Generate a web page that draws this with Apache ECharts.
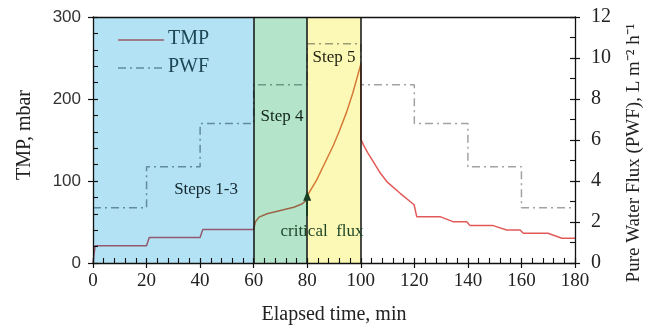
<!DOCTYPE html>
<html>
<head>
<meta charset="utf-8">
<script src="https://cdn.jsdelivr.net/npm/echarts@6/dist/echarts.min.js"></script>
<style>
  html, body { margin: 0; padding: 0; background: #ffffff; }
  #chart { width: 651px; height: 330px; }
</style>
</head>
<body>
<div id="chart"></div>
<script>
// Transmembrane pressure (mbar) against elapsed time (min)
const tmpTime = [0, 0.8, 20, 21, 40, 41, 60, 60.6, 62, 65, 70, 75, 78, 79.5, 80,
  83.5, 86, 89.7, 92, 94.7, 97, 100, 100, 101, 102.5, 104.6, 107, 109.8, 114.7,
  119.9, 120.9, 129.6, 134.4, 139.6, 140.8, 149.4, 154.5, 159.5, 160.7, 169.9,
  175.1, 180];
const tmpValues = [0, 21, 21, 31, 31, 41, 41, 50, 56, 60, 64, 68, 72, 76, 82,
  101, 118, 143, 161, 184, 207, 242, 151, 144, 135, 124, 111, 99, 85,
  71, 56.5, 56.5, 50.4, 50.4, 45.6, 45.6, 40.3, 40.3, 36.3, 36.3,
  30.2, 30.2];

// Pure water flux set points (L m-2 h-1), each held until the next time
const pwfTime = [0, 20, 40, 60, 80, 100, 120, 140, 160, 180];
const pwfValues = [2.7, 4.7, 6.8, 8.7, 10.7, 8.7, 6.8, 4.7, 2.7, 2.7];

// Stage boundaries (min)
const stageEdges = [0, 60, 80, 100];
const stageNames = ['Steps 1-3', 'Step 4', 'Step 5'];
const criticalFluxTime = 80;
const criticalFluxRange = [57, 82];

// Axis ranges and tick steps
const xRange = [0, 180], xStep = 20;
const tmpRange = [0, 300], tmpStep = 100;
const pwfRange = [0, 12], pwfStep = 2;

const SERIF = '"Liberation Serif", "Times New Roman", serif';
const SANS = '"Liberation Sans", Arial, sans-serif';
const stageFills = ['#b3e2f5', '#b4e4c9', '#fcf9b6'];
const INK = '#111';

const chart = echarts.init(document.getElementById('chart'), null, { renderer: 'canvas' });

function axisLineStyle(show) {
  return { show: show, onZero: false, lineStyle: { color: INK, width: 1.3 } };
}
function tickStyle(inside) {
  return { show: true, inside: inside, length: 5, lineStyle: { color: INK, width: 1.2 } };
}
function minorStyle(n) {
  return { show: true, splitNumber: n, length: 5, lineStyle: { color: INK, width: 1.1 } };
}

const baseX = { type: 'value', min: xRange[0], max: xRange[1], interval: xStep, z: 10, splitLine: { show: false } };
const baseL = { type: 'value', min: tmpRange[0], max: tmpRange[1], interval: tmpStep, z: 10, splitLine: { show: false } };
const baseR = { type: 'value', min: pwfRange[0], max: pwfRange[1], interval: pwfStep, z: 10, splitLine: { show: false } };

const stageAreas = [];
for (let i = 0; i < stageNames.length; i++) {
  stageAreas.push([
    { xAxis: stageEdges[i], itemStyle: { color: stageFills[i] } },
    { xAxis: stageEdges[i + 1] }
  ]);
}

const option = {
  animation: false,
  grid: { left: 93, right: 76, top: 17, bottom: 65 },
  xAxis: [
    Object.assign({}, baseX, {
      position: 'bottom',
      axisLine: axisLineStyle(true),
      axisTick: tickStyle(true),
      minorTick: minorStyle(5),
      axisLabel: { margin: 9, fontFamily: SERIF, fontSize: 19, color: '#222' },
      name: 'Elapsed time, min',
      nameLocation: 'middle',
      nameGap: 42,
      nameTextStyle: { fontFamily: SERIF, fontSize: 20, color: '#222' }
    }),
    Object.assign({}, baseX, {
      position: 'bottom',
      axisLine: axisLineStyle(false),
      axisTick: tickStyle(false),
      axisLabel: { show: false }
    }),
    Object.assign({}, baseX, {
      position: 'top',
      axisLine: axisLineStyle(true),
      axisTick: { show: false },
      axisLabel: { show: false }
    })
  ],
  yAxis: [
    Object.assign({}, baseL, {
      position: 'left',
      axisLine: axisLineStyle(true),
      axisTick: tickStyle(true),
      minorTick: minorStyle(5),
      axisLabel: { margin: 12, fontFamily: SANS, fontSize: 17, color: '#333' }
    }),
    Object.assign({}, baseR, {
      position: 'right',
      axisLine: axisLineStyle(true),
      axisTick: tickStyle(true),
      minorTick: minorStyle(2),
      axisLabel: { margin: 16, fontFamily: SERIF, fontSize: 20, color: '#222' }
    }),
    Object.assign({}, baseL, {
      position: 'left',
      axisLine: axisLineStyle(false),
      axisTick: tickStyle(false),
      axisLabel: { show: false }
    }),
    Object.assign({}, baseR, {
      position: 'right',
      axisLine: axisLineStyle(false),
      axisTick: tickStyle(false),
      axisLabel: { show: false }
    })
  ],
  visualMap: [
    {
      type: 'piecewise', show: false, seriesIndex: 0, dimension: 0,
      pieces: [
        { lt: 60, color: '#93596f' },
        { gte: 60, lt: 80, color: '#9a6646' },
        { gte: 80, lte: 100, color: '#d57a36' },
        { gt: 100, color: '#e25a58' }
      ]
    },
    {
      type: 'piecewise', show: false, seriesIndex: 1, dimension: 0,
      pieces: [
        { lt: 60, color: '#5f8d9b' },
        { gte: 60, lt: 80, color: '#6f9984' },
        { gte: 80, lte: 100, color: '#9c9b78' },
        { gt: 100, color: '#a2a2a2' }
      ]
    }
  ],
  series: [
    {
      name: 'TMP',
      type: 'line',
      xAxisIndex: 0,
      yAxisIndex: 0,
      data: tmpTime.map((t, i) => [t, tmpValues[i]]),
      showSymbol: false,
      lineStyle: { width: 1.5 },
      z: 4
    },
    {
      name: 'PWF',
      type: 'line',
      xAxisIndex: 0,
      yAxisIndex: 1,
      step: 'end',
      data: pwfTime.map((t, i) => [t, pwfValues[i]]),
      showSymbol: false,
      lineStyle: { width: 1.5, type: [8, 4, 2, 4] },
      z: 3
    },
    {
      // shaded operating stages
      type: 'line',
      xAxisIndex: 0,
      yAxisIndex: 0,
      data: [],
      z: 1,
      silent: true,
      markArea: { silent: true, data: stageAreas }
    },
    {
      // stage boundaries
      type: 'line',
      xAxisIndex: 0,
      yAxisIndex: 0,
      data: [],
      z: 6,
      silent: true,
      markLine: {
        silent: true,
        symbol: 'none',
        label: { show: false },
        lineStyle: { color: INK, width: 1.5, type: 'solid' },
        data: stageEdges.slice(1).map(v => ({ xAxis: v }))
      }
    },
    {
      // critical flux arrow
      type: 'line',
      xAxisIndex: 0,
      yAxisIndex: 0,
      data: [],
      z: 7,
      silent: true,
      markLine: {
        silent: true,
        symbol: ['none', 'triangle'],
        symbolSize: [8, 10],
        label: { show: false },
        lineStyle: { color: '#173d22', width: 2, type: 'solid' },
        data: [[
          { coord: [criticalFluxTime, criticalFluxRange[0]] },
          { coord: [criticalFluxTime, criticalFluxRange[1]] }
        ]]
      }
    }
  ],
  graphic: [
    // legend
    { type: 'line', z: 20, shape: { x1: 118, y1: 40, x2: 164, y2: 40 },
      style: { stroke: '#9b5a68', lineWidth: 1.5 } },
    { type: 'text', z: 20, left: 168, top: 29,
      style: { text: 'TMP', font: '20px ' + SERIF, fill: '#1d4654' } },
    { type: 'line', z: 20, shape: { x1: 118, y1: 68, x2: 164, y2: 68 },
      style: { stroke: '#5f8d9b', lineWidth: 1.5, lineDash: [8, 4, 2, 4] } },
    { type: 'text', z: 20, left: 168, top: 57,
      style: { text: 'PWF', font: '20px ' + SERIF, fill: '#1d4654' } },
    // stage labels
    { type: 'text', z: 20, x: 206, y: 190,
      style: { text: stageNames[0], font: '17px ' + SERIF, fill: '#14282e', align: 'center', verticalAlign: 'middle' } },
    { type: 'text', z: 20, x: 282, y: 117,
      style: { text: stageNames[1], font: '17px ' + SERIF, fill: '#13251b', align: 'center', verticalAlign: 'middle' } },
    { type: 'text', z: 20, x: 334, y: 58,
      style: { text: stageNames[2], font: '17px ' + SERIF, fill: '#1f1f10', align: 'center', verticalAlign: 'middle' } },
    { type: 'text', z: 20, x: 322, y: 232,
      style: { text: 'critical  flux', font: '17px ' + SERIF, fill: '#1d4527', align: 'center', verticalAlign: 'middle' } },
    // axis titles
    { type: 'text', z: 20, x: 25, y: 135, rotation: Math.PI / 2,
      style: { text: 'TMP, mbar', font: '20px ' + SERIF, fill: '#222', align: 'center', verticalAlign: 'middle' } },
    { type: 'text', z: 20, x: 634, y: 153, rotation: Math.PI / 2,
      style: { text: 'Pure Water Flux (PWF), L m\u207B\u00B2 h\u207B\u00B9', font: '19px ' + SERIF, fill: '#222', align: 'center', verticalAlign: 'middle' } }
  ]
};

chart.setOption(option);
</script>
</body>
</html>
